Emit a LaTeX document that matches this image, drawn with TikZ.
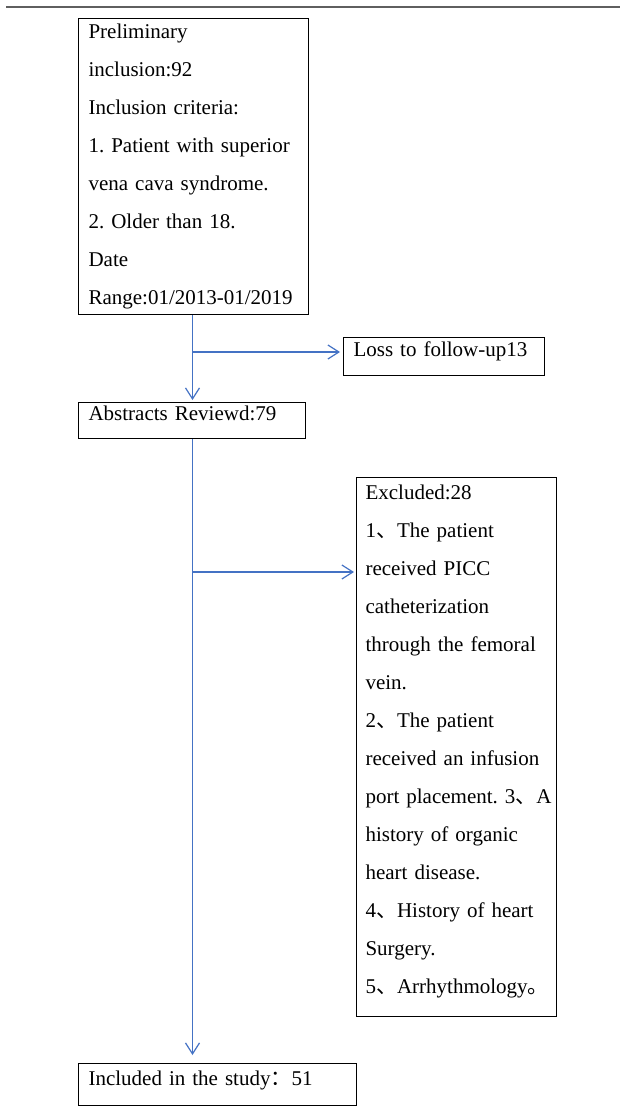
\documentclass[tikz,border=0pt]{standalone}
\usepackage{fontspec}
\setmainfont{Liberation Serif}
\newfontfamily\cjk{Noto Sans CJK SC}
\usepackage{xcolor}
\usepackage{tikz}
\usetikzlibrary{arrows.meta,positioning}

\definecolor{arrowblue}{RGB}{68,114,196}
\definecolor{rulegray}{RGB}{95,95,95}
\newcommand{\cjkcomma}{{\cjk 、}}
\newcommand{\cjkstop}{{\cjk 。}}
\newcommand{\cjkcolon}{{\cjk ：}}
\frenchspacing

\begin{document}
\begin{tikzpicture}[
    x=1pt, y=-1pt,
    box/.style={draw, line width=1.1pt, anchor=north west, align=left, inner xsep=10pt,
        font=\fontsize{21}{38}\selectfont},
    flow/.style={draw=arrowblue, line width=1.2pt, -{Straight Barb[length=11pt,width=14pt]}}
]
    \useasboundingbox (0,0) rectangle (620,1115);
    \draw[rulegray, line width=2.5pt] (6,7) -- (620,7);

    % Boxes
    \node[box, text width=210pt, minimum height=296pt] (prelim) at (78,18)
        {Preliminary\\ inclusion:92\\ Inclusion criteria:\\ 1. Patient with superior\\
         vena cava syndrome.\\ 2. Older than 18.\\ Date\\ Range:01/2013-01/2019};
    \node[box, text width=181pt, text height=15pt, text depth=15pt, inner ysep=4pt] (loss) at (343,337)
        {Loss to follow-up13};
    \node[box, text width=207pt, text height=15pt, text depth=15pt, inner ysep=3pt] (abstracts) at (78,402)
        {Abstracts Reviewd:79};
    \node[box, text width=182pt, minimum height=539pt, inner xsep=9pt] (excluded) at (356,477)
        {Excluded:28\\ 1\cjkcomma The patient\\ received PICC\\ catheterization\\
         through the femoral\\ vein.\\ 2\cjkcomma The patient\\ received an infusion\\
         \mbox{port placement. 3\cjkcomma A}\\ history of organic\\ heart disease.\\
         4\cjkcomma History of heart\\ Surgery.\\ 5\cjkcomma Arrhythmology\cjkstop\rule[-15pt]{0pt}{0pt}};
    \node[box, text width=258pt, text height=15pt, text depth=13pt, inner ysep=7pt] (included) at (78,1063)
        {Included in the study\cjkcolon 51};

    % Arrows
    \coordinate (b1) at (192.5,352);
    \coordinate (b2) at (192.5,572);
    \draw[flow, shorten >=2pt] (b1 |- prelim.south) -- (b1 |- abstracts.north);
    \draw[flow, shorten >=3pt] (b1) -- (b1 -| loss.west);
    \draw[flow, shorten >=8pt] (b2 |- abstracts.south) -- (b2 |- included.north);
    \draw[flow, shorten >=2pt] (b2) -- (b2 -| excluded.west);
\end{tikzpicture}
\end{document}
